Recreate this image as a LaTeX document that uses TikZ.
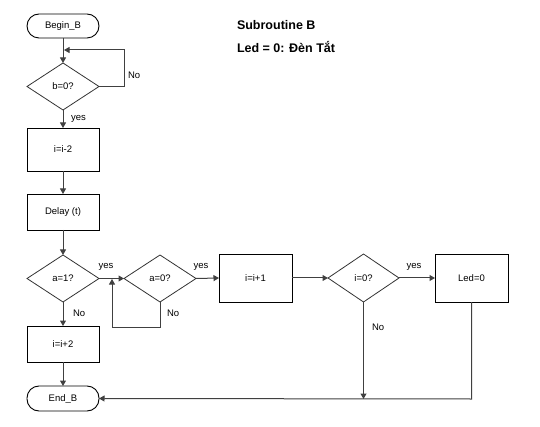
\documentclass[tikz,border=0pt]{standalone}
\usepackage{fontspec}
\setmainfont{Liberation Sans}
\usetikzlibrary{shapes.geometric,arrows.meta}
\begin{document}
\begin{tikzpicture}[x=1pt,y=-1pt,
  font=\fontsize{9.5}{11}\selectfont,
  every node/.style={inner sep=0pt,outer sep=0pt},
  procbox/.style={draw=black,line width=0.9pt,rectangle,minimum width=72pt},
  termbox/.style={draw=black,line width=0.9pt,rectangle,rounded corners=12pt,minimum width=72pt,minimum height=24pt},
  decbox/.style={draw=black!80,line width=0.8pt,diamond,aspect=1.5,minimum width=72pt,minimum height=47pt},
  conn/.style={draw=black!75,line width=1pt,-{Triangle[length=5.5pt,width=6pt]}},
  plainconn/.style={draw=black!75,line width=1pt},
  lbl/.style={font=\fontsize{9.5}{11}\selectfont},
  title/.style={font=\fontsize{12.5}{14}\selectfont\bfseries,anchor=west}
]
\useasboundingbox (0,0) rectangle (540,427);

% nodes
\node[termbox] (begin) at (63,26) {Begin\_B};
\node[decbox] (b0) at (63,86.5) {b=0?};
\node[procbox,minimum height=43pt] (dec2) at (63,149.5) {i=i-2};
\node[procbox,minimum height=36pt] (delay) at (63,212) {Delay (t)};
\node[decbox] (a1) at (63,278.5) {a=1?};
\node[decbox] (a0) at (160,278.5) {a=0?};
\node[procbox,minimum width=73pt,minimum height=48pt] (inc) at (255.5,278) {i=i+1};
\node[decbox,minimum width=71pt,minimum height=48pt] (i0) at (363.5,278) {i=0?};
\node[procbox,minimum width=73pt,minimum height=48pt] (led) at (471.5,278) {Led=0};
\node[procbox,minimum height=36pt] (inc2) at (63,344) {i=i+2};
\node[termbox,minimum height=25pt] (end) at (63,398.5) {End\_B};

\node[title] (t1) at (237,25) {Subroutine B};
\node[title] (t2) at (237,47) {Led = 0: Đèn Tắt};

% helper coordinates
\coordinate (bl1) at (124,86.5);
\coordinate (bl2) at (124,50);
\coordinate (bl3) at (64,50);
\coordinate (al1) at (160,327);
\coordinate (al2) at (112,327);
\coordinate (al3) at (112,279);
\coordinate (ledc) at (471.5,399);
\coordinate (i0c) at (363.5,399);

% connectors
\draw[conn] (begin.south) -- (b0.north);
\draw[conn] (b0.east) -- (bl1) -- (bl2) -- (bl3);
\node[lbl,anchor=west] (nob) at (128,75) {No};
\draw[conn] (b0.south) -- (dec2.north);
\node[lbl,anchor=west] (yesb) at (71,119) {yes};
\draw[conn] (dec2.south) -- (delay.north);
\draw[conn] (delay.south) -- (a1.north);
\draw[conn] (a1.east) -- (a0.west);
\node[lbl] (yesa1) at (106,267) {yes};
\draw[conn] (a0.south) -- (al1) -- (al2) -- (al3);
\node[lbl,anchor=west] (noa0) at (167,313) {No};
\draw[conn] (a0.east) -- (inc.west);
\node[lbl] (yesa0) at (201,267) {yes};
\draw[conn] (inc.east) -- (i0.west);
\draw[conn] (i0.east) -- (led.west);
\node[lbl] (yesi0) at (414,267) {yes};
\draw[conn] (a1.south) -- (inc2.north);
\node[lbl,anchor=west] (noa1) at (73,313) {No};
\draw[conn] (inc2.south) -- (end.north);
\draw[conn] (led.south) -- (ledc) -- (end.east);
\draw[conn] (i0.south) -- (i0c);
\node[lbl,anchor=west] (noi0) at (372,327) {No};
\end{tikzpicture}
\end{document}
